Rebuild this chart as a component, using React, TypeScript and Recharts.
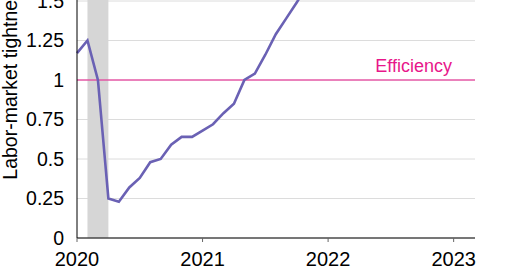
import {
  LineChart,
  Line,
  XAxis,
  YAxis,
  CartesianGrid,
  ReferenceArea,
  ReferenceLine,
} from 'recharts'

const months = [
  'Jan 2020', 'Feb 2020', 'Mar 2020', 'Apr 2020', 'May 2020', 'Jun 2020',
  'Jul 2020', 'Aug 2020', 'Sep 2020', 'Oct 2020', 'Nov 2020', 'Dec 2020',
  'Jan 2021', 'Feb 2021', 'Mar 2021', 'Apr 2021', 'May 2021', 'Jun 2021',
  'Jul 2021', 'Aug 2021', 'Sep 2021', 'Oct 2021', 'Nov 2021', 'Dec 2021',
]
const tightness = [
  1.17, 1.25, 1.0, 0.25, 0.23, 0.32, 0.38, 0.48, 0.5, 0.59, 0.64, 0.64,
  0.68, 0.72, 0.79, 0.85, 1.0, 1.04, 1.16, 1.29, 1.39, 1.49, 1.6, 1.7,
]
const yearTicks = [2020, 2021, 2022, 2023]
const yTicks = [0, 0.25, 0.5, 0.75, 1, 1.25, 1.5, 1.75, 2]
const recession = [2020 + 1 / 12, 2020 + 3 / 12]
const efficiency = 1

const FONT = '"Liberation Sans", Arial, Helvetica, sans-serif'
const PURPLE = '#6a61b4'
const PINK = '#e8168a'

const data = months.map((m, i) => ({ month: m, t: 2020 + i / 12, value: tightness[i] }))

export default function App() {
  return (
    <div style={{ position: 'absolute', left: 0, top: -90, fontFamily: FONT }}>
      <LineChart
        width={520}
        height={362}
        data={data}
        margin={{ top: 12, right: 45, bottom: 0, left: 0 }}
      >
        <CartesianGrid vertical={false} stroke="#dcdcdc" strokeWidth={1} />
        <ReferenceArea
          x1={recession[0]}
          x2={recession[1]}
          y1={0}
          y2={2}
          fill="#d6d6d6"
          fillOpacity={1}
          stroke="none"
        />
        <XAxis
          type="number"
          dataKey="t"
          domain={[2020, 2023.17]}
          ticks={yearTicks}
          height={34}
          tickSize={4}
          tickMargin={10}
          stroke="#000"
          tickLine={{ stroke: '#666' }}
          tick={{ fill: '#000', fontSize: 20, fontFamily: FONT }}
        />
        <YAxis
          type="number"
          domain={[0, 2]}
          ticks={yTicks}
          width={77}
          tickSize={4}
          tickMargin={9}
          tickLine={false}
          stroke="#000"
          tick={{ fill: '#000', fontSize: 19.5, fontFamily: FONT }}
          label={{
            content: () => (
              <text
                transform="translate(17,170) rotate(-90)"
                textAnchor="middle"
                fontSize={19.5}
                fontFamily={FONT}
                fill="#000"
              >
                Labor-market tightness
              </text>
            ),
          }}
        />
        <ReferenceLine
          y={efficiency}
          stroke={PINK}
          strokeWidth={1.2}
          label={{
            content: (props: any) => {
              const vb = props.viewBox
              return (
                <text
                  x={vb.x + vb.width - 23}
                  y={vb.y - 8}
                  textAnchor="end"
                  fontSize={18}
                  fontFamily={FONT}
                  fill={PINK}
                >
                  Efficiency
                </text>
              )
            },
          }}
        />
        <Line
          type="linear"
          dataKey="value"
          stroke={PURPLE}
          strokeWidth={2.6}
          dot={false}
          isAnimationActive={false}
        />
      </LineChart>
    </div>
  )
}
